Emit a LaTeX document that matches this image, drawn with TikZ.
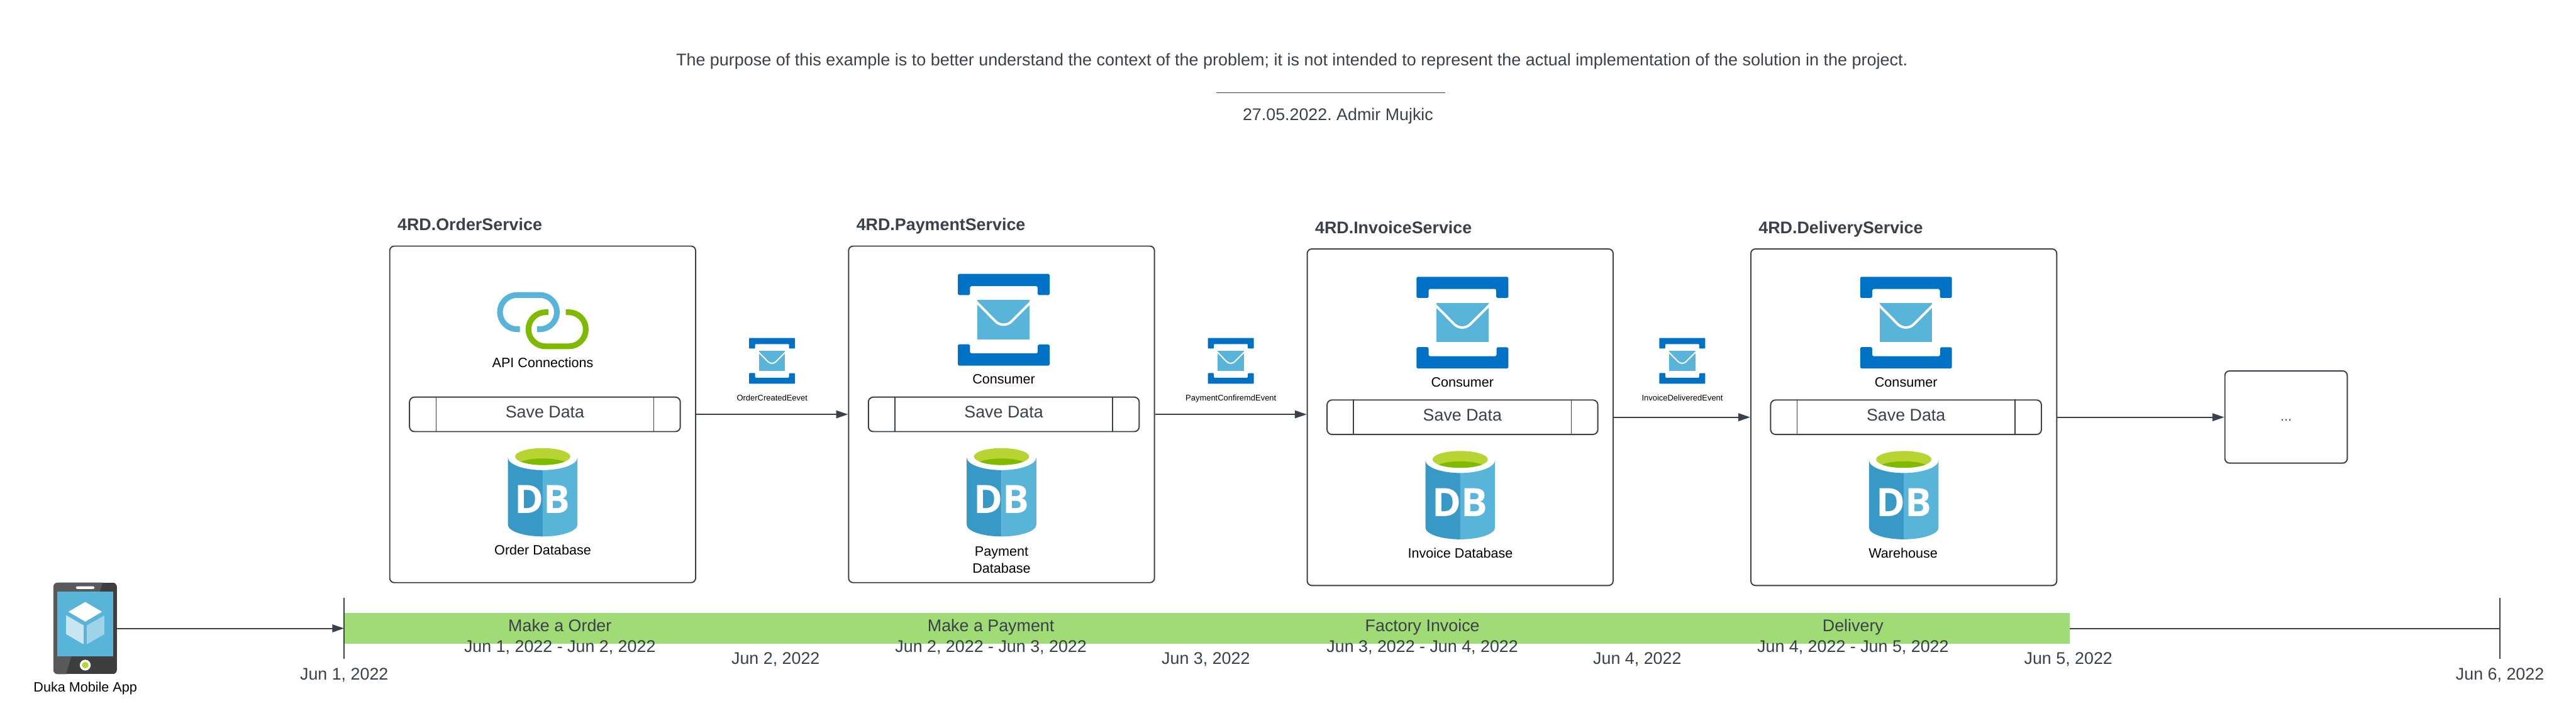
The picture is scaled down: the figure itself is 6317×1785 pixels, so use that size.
\documentclass[tikz,border=0pt]{standalone}
\usepackage{fontspec}
\setmainfont{Liberation Sans}
\newfontfamily\dbfont{Open Sans}
\usetikzlibrary{arrows.meta}
\definecolor{ink}{RGB}{58,65,74}
\definecolor{azblue}{RGB}{0,114,198}
\definecolor{azsky}{RGB}{89,180,217}
\definecolor{azdeep}{RGB}{57,153,198}
\definecolor{azlime}{RGB}{184,212,50}
\definecolor{azgreen}{RGB}{127,186,0}
\definecolor{barfill}{RGB}{160,219,118}
\definecolor{phonedark}{RGB}{62,62,62}
\definecolor{phonelight}{RGB}{89,89,89}
\frenchspacing
\tikzset{
  svcbox/.style={draw=ink,line width=3pt,rounded corners=11pt,inner sep=0pt,
    minimum width=750pt,minimum height=825.5pt},
  morebox/.style={draw=ink,line width=3pt,rounded corners=11pt,inner sep=0pt,
    minimum width=300pt,minimum height=226pt,text=ink,
    font=\fontsize{33.3}{40}\selectfont,text height=20pt,text depth=0pt},
  savebar/.style={draw=ink,line width=3pt,rounded corners=12pt,inner sep=0pt,
    minimum width=664pt,minimum height=84.5pt},
  divider/.style={draw=ink,line width=2.5pt},
  svctitle/.style={text=ink,inner sep=0pt,anchor=base west,font=\fontsize{41.4}{48}\selectfont\bfseries},
  bigtext/.style={text=ink,inner sep=0pt,anchor=base,font=\fontsize{41.4}{49}\selectfont},
  iconlabel/.style={text=black,inner sep=0pt,anchor=base,align=center,font=\fontsize{33.3}{40.6}\selectfont},
  eventlabel/.style={text=black,inner sep=0pt,anchor=base,font=\fontsize{20}{24}\selectfont},
  flow/.style={draw=ink,line width=3pt,-{Triangle[length=29pt,width=19pt]}},
  rule/.style={draw=ink,line width=3pt},
  queueicon/.pic={
    \begin{scope}[scale=#1,yscale=-1]
      \fill[azblue,rounded corners=#1*3pt] (0,52) -- (0,0) -- (225,0) -- (225,52)
        -- (195.5,52) -- (195.5,30) -- (29.5,30) -- (29.5,52) -- cycle;
      \fill[azblue,rounded corners=#1*3pt] (0,172.5) -- (0,225) -- (225,225) -- (225,173)
        -- (196,173) -- (196,195) -- (29.5,195) -- (29.5,172.5) -- cycle;
      \fill[azsky] (48.3,64.3) rectangle (176.3,160.7);
      \draw[white,line width=#1*6pt] (44,67.4) -- (93,117)
        .. controls (104,127) and (120,127) .. (131,117) -- (180.6,67.4);
    \end{scope}
  },
  dbicon/.pic={
    \begin{scope}[yscale=-1]
      \fill[azdeep] (-85.3,22) arc (180:90:85.3 and 31.3) -- (0,216)
        arc (90:180:85.3 and 29) -- cycle;
      \fill[azsky] (85.3,22) arc (0:90:85.3 and 31.3) -- (0,216)
        arc (90:0:85.3 and 29) -- cycle;
      \fill[azlime] (0,20) ellipse (67.7 and 20.7);
      \begin{scope}
        \clip (0,20) ellipse (67.7 and 20.7);
        \fill[azgreen] (0,45.4) ellipse (67.7 and 20.7);
      \end{scope}
      \node[text=white,inner sep=0pt,font=\fontsize{96}{110}\selectfont\dbfont\bfseries]
        (mark) at (0,125.3) {DB};
    \end{scope}
  },
  phoneicon/.pic={
    \begin{scope}[yscale=-1]
      \begin{scope}
        \clip[rounded corners=11pt] (0,0) rectangle (155.7,225);
        \fill[phonedark] (0,0) rectangle (155.7,225);
        \fill[phonelight] (0,0) -- (120.7,0) -- (114,22.7) -- (44,181) -- (30.7,225) -- (0,225) -- cycle;
      \end{scope}
      \fill[azsky] (10,22.7) rectangle (146,181);
      \fill[white,rounded corners=3pt] (55,9.3) rectangle (101,16);
      \fill[white] (78,202.7) circle (13.3);
      \fill[azlime] (78,202.7) circle (8);
      \fill[white] (78,47.7) -- (119,71.7) -- (78,96) -- (36.7,71.7) -- cycle;
      \fill[white,fill opacity=.68] (31.3,80.3) -- (74,105.3) -- (74,151.7) -- (31.3,126.7) -- cycle;
      \fill[white,fill opacity=.42] (81.7,105.3) -- (124.7,81) -- (124.7,126.7) -- (81.7,151.7) -- cycle;
    \end{scope}
  }
}
\begin{document}
\begin{tikzpicture}[x=1pt,y=1pt,yscale=-1]
  \useasboundingbox (0,0) rectangle (6317,1785);
  % heading
  \node[bigtext,font=\fontsize{41.6}{49}\selectfont] (purpose) at (3168,160.5) {The purpose of this example is to better understand the context of the problem; it is not intended to represent the actual implementation of the solution in the project.};
  \coordinate (signleft) at (2982,227.5);
  \coordinate (signright) at (3544,227.5);
  \draw[rule] (signleft) -- (signright);
  \node[bigtext] (signed) at (3281,295) {27.05.2022. Admir Mujkic};
  % services
  \foreach \svc/\cx/\cy/\svcname in {order/1330.75/1016.5/4RD.OrderService,payment/2456/1016.5/4RD.PaymentService,invoice/3580.75/1023.5/4RD.InvoiceService,delivery/4668.5/1023.5/4RD.DeliveryService}{
    \node[svcbox] (\svc box) at (\cx,\cy) {};
    \node[svctitle] (\svc title) at (\cx-356,\cy-451) {\svcname};
    \node[savebar] (\svc save) at (\cx+5.5,\cy) {};
    \draw[divider] ([xshift=66.5pt]\svc save.north west) -- ([xshift=66.5pt]\svc save.south west);
    \draw[divider] ([xshift=-66.5pt]\svc save.north east) -- ([xshift=-66.5pt]\svc save.south east);
    \node[bigtext] (\svc savetext) at (\cx+5.5,\cy+9) {Save Data};
    \pic (\svc db) at (\cx,\cy+83.5) {dbicon};
  }
  \foreach \svc/\cx/\cy in {payment/2456/1016.5,invoice/3580.75/1023.5,delivery/4668.5/1023.5}{
    \pic at (\cx-107,\cy-344.5) {queueicon=1};
    \node[iconlabel] (\svc consumer) at (\cx+5.5,\cy-75) {Consumer};
  }
  \node[iconlabel] (orderdbtext) at (1331,1361) {Order Database};
  \node[iconlabel,anchor=center] (paymentdbtext) at (2456,1373.5) {Payment\\Database};
  \node[iconlabel] (invoicedbtext) at (3581,1368) {Invoice Database};
  \node[iconlabel] (deliverydbtext) at (4667,1368) {Warehouse};
  % api link
  \draw[azsky,line width=14pt] (1275,807.7) -- (1268,807.7) arc (90:270:42) -- (1323.7,723.7) arc (270:450:42) -- (1316.7,807.7);
  \draw[azgreen,line width=14pt] (1345,766) -- (1337.7,766) arc (270:90:41.8) -- (1394.7,849.6) arc (90:-90:41.8) -- (1387.3,766);
  \node[iconlabel] (apitext) at (1331,900.7) {API Connections};
  % events between services
  \foreach \evt/\ex/\evtname in {created/1893.5/OrderCreatedEevet,confirmed/3018.5/PaymentConfiremdEvent,delivered/4125.5/InvoiceDeliveredEvent}{
    \pic at (\ex-56.5,829) {queueicon=0.5};
    \node[eventlabel] (\evt text) at (\ex,983) {\evtname};
  }
  \node[morebox] (more) at (5606,1023) {...};
  \draw[flow] (orderbox.east) -- (paymentbox.west);
  \draw[flow] (paymentbox.east) -- (paymentbox.east -| invoicebox.west);
  \draw[flow] (invoicebox.east) -- (deliverybox.west);
  \draw[flow] (deliverybox.east) -- (deliverybox.east -| more.west);
  % phone and timeline
  \node[minimum width=155.7pt,minimum height=225pt,inner sep=0pt] (phone) at (208.85,1541.5) {};
  \pic at (131,1429) {phoneicon};
  \node[iconlabel] (phonetext) at (209.3,1697.7) {Duka Mobile App};
  \node[fill=barfill,inner sep=0pt,minimum width=4231pt,minimum height=75pt] (bar) at (2959.5,1541.5) {};
  \coordinate (firsttop) at (844,1466);
  \coordinate (firstbot) at (844,1616);
  \coordinate (lasttop) at (6130.5,1466);
  \coordinate (lastbot) at (6130.5,1616);
  \coordinate (lastmid) at (6130.5,1541.5);
  \draw[rule] (firsttop) -- (firstbot);
  \draw[rule] (lasttop) -- (lastbot);
  \draw[flow] (phone.east) -- (bar.west);
  \draw[rule] (bar.east) -- (lastmid);
  \foreach \stage/\sx/\d/\e in {Make a Order/1373/1/2,Make a Payment/2430/2/3,Factory Invoice/3488/3/4,Delivery/4544/4/5}{
    \node[bigtext] (stage\d) at (\sx,1549.3) {\stage};
    \node[bigtext] (range\d) at (\sx,1599.3) {Jun \d, 2022 - Jun \e, 2022};
  }
  \foreach \d/\mx/\my in {1/844/1667.7,2/1902/1630,3/2957/1630,4/4015/1630,5/5072/1630,6/6130.5/1667.7}{
    \node[bigtext] (mile\d) at (\mx,\my) {Jun \d, 2022};
  }
\end{tikzpicture}
\end{document}
